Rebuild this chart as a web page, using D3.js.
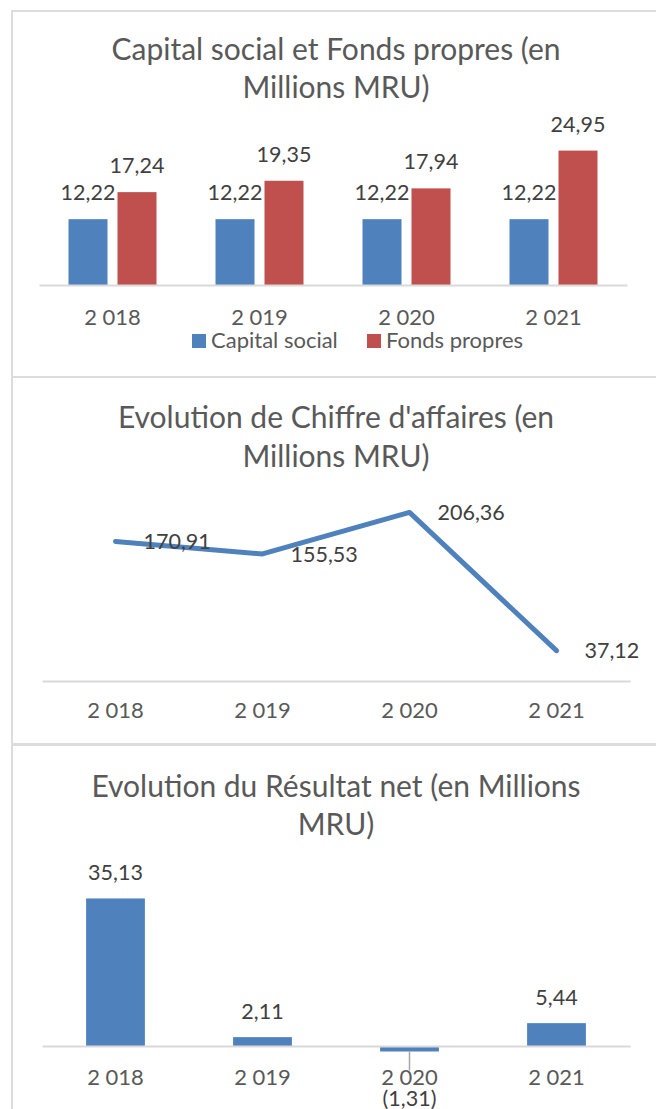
<!DOCTYPE html>
<html>
<head>
<meta charset="utf-8">
<script src="https://cdn.jsdelivr.net/npm/d3@7"></script>
<style>
  html, body { margin: 0; padding: 0; background: #fff; }
  svg { display: block; font-family: Lato, "Open Sans", sans-serif; }
</style>
</head>
<body>
<svg id="chart" width="656" height="1109"></svg>
<script>
// data
const years = ["2 018", "2 019", "2 020", "2 021"];
const capitalSocial = [12.22, 12.22, 12.22, 12.22];
const fondsPropres = [17.24, 19.35, 17.94, 24.95];
const chiffreAffaires = [170.91, 155.53, 206.36, 37.12];
const resultatNet = [35.13, 2.11, -1.31, 5.44];
const seriesNames = ["Capital social", "Fonds propres"];
const titles = [
    ["Capital social et Fonds propres (en", "Millions MRU)"],
    ["Evolution de Chiffre d'affaires (en", "Millions MRU)"],
    ["Evolution du Résultat net (en Millions", "MRU)"]
];

const BLUE = "#4f81bd", RED = "#c0504d", GREY = "#595959", LINE = "#d9d9d9";

const fr = d3.formatLocale({decimal: ",", thousands: " ", grouping: [3], currency: ["", ""]});
const f2 = fr.format(".2f");
const fmt = v => v < 0 ? "(" + f2(-v) + ")" : f2(v);

const svg = d3.select("#chart");

// panel frames
const panels = [[11, 377], [377, 744], [745, 1120]];
svg.append("g").selectAll("rect")
    .data(panels)
    .join("rect")
    .attr("x", 12)
    .attr("y", d => d[0])
    .attr("width", 660)
    .attr("height", d => d[1] - d[0])
    .attr("fill", "#fff")
    .attr("stroke", "#dcdcdc")
    .attr("stroke-width", 2);

function drawTitle(lines, y0, y1){
    const t = svg.append("text")
        .attr("text-anchor", "middle")
        .attr("fill", GREY)
        .attr("font-size", 30);
    t.append("tspan").attr("x", 336).attr("y", y0).text(lines[0]);
    t.append("tspan").attr("x", 336).attr("y", y1).text(lines[1]);
}

function drawXAxis(x, yPos, labelY){
    const g = svg.append("g")
        .attr("transform", `translate(0,${yPos})`)
        .call(d3.axisBottom(x).tickSize(0).tickPadding(0));
    g.select(".domain").attr("stroke", LINE).attr("stroke-width", 2);
    g.selectAll("text")
        .attr("y", labelY).attr("dy", 0)
        .attr("font-size", 22)
        .attr("font-family", "Lato, sans-serif")
        .attr("fill", GREY);
    return g;
}

// ---------- Chart 1 : grouped bars ----------
drawTitle(titles[0], 60, 98);

const x1 = d3.scaleBand().domain(years).range([39, 627]);
const xs = d3.scaleBand().domain(seriesNames)
    .range([x1.bandwidth() / 2 - 44, x1.bandwidth() / 2 + 44])
    .paddingInner(0.204);
const y1 = d3.scaleLinear().domain([0, 30]).range([285, 123.4]);

const rows1 = years.map((yr, i) => ({yr, vals: [
    {s: seriesNames[0], v: capitalSocial[i], c: BLUE},
    {s: seriesNames[1], v: fondsPropres[i], c: RED}
]}));

const grp = svg.append("g").selectAll("g")
    .data(rows1)
    .join("g")
    .attr("transform", d => `translate(${x1(d.yr)},0)`);

grp.selectAll("rect")
    .data(d => d.vals)
    .join("rect")
    .attr("x", d => xs(d.s))
    .attr("width", xs.bandwidth())
    .attr("y", d => y1(d.v))
    .attr("height", d => y1(0) - y1(d.v))
    .attr("fill", d => d.c);

grp.selectAll("text")
    .data(d => d.vals)
    .join("text")
    .attr("x", d => xs(d.s) + xs.bandwidth() / 2)
    .attr("y", d => y1(d.v) - 19)
    .attr("text-anchor", "middle")
    .attr("font-size", 21.5)
    .attr("fill", "#404040")
    .text(d => fmt(d.v));

drawXAxis(x1, 285, 40);

// legend
const legend = svg.append("g").attr("transform", "translate(192,334)");
const legItems = [{s: seriesNames[0], c: BLUE, dx: 0}, {s: seriesNames[1], c: RED, dx: 175}];
const li = legend.selectAll("g").data(legItems).join("g")
    .attr("transform", d => `translate(${d.dx},0)`);
li.append("rect").attr("width", 14).attr("height", 14).attr("fill", d => d.c);
li.append("text").attr("x", 19).attr("y", 14)
    .attr("font-size", 22).attr("fill", GREY).text(d => d.s);

// ---------- Chart 2 : line ----------
drawTitle(titles[1], 428, 467);

const x2 = d3.scaleBand().domain(years).range([42, 630]);
const y2 = d3.scaleLinear().domain([0, 250]).range([681, 476.8]);

drawXAxis(x2, 681, 37);

const pts = years.map((yr, i) => ({x: x2(yr) + x2.bandwidth() / 2, v: chiffreAffaires[i]}));

svg.append("path")
    .datum(pts)
    .attr("fill", "none")
    .attr("stroke", BLUE)
    .attr("stroke-width", 5)
    .attr("stroke-linecap", "round")
    .attr("stroke-linejoin", "round")
    .attr("d", d3.line().x(d => d.x).y(d => y2(d.v)));

svg.append("g").selectAll("text")
    .data(pts)
    .join("text")
    .attr("x", d => d.x + 28)
    .attr("y", d => y2(d.v))
    .attr("dy", "0.36em")
    .attr("font-size", 21.5)
    .attr("fill", "#404040")
    .text(d => fmt(d.v));

// ---------- Chart 3 : bars with negative ----------
drawTitle(titles[2], 797, 835);

const x3 = d3.scaleBand().domain(years).range([42, 630]).paddingInner(0.6).paddingOuter(0.3);
const y3 = d3.scaleLinear().domain([0, 40]).range([1046, 878]);

const rows3 = years.map((yr, i) => ({yr, v: resultatNet[i]}));

svg.append("g").selectAll("rect")
    .data(rows3)
    .join("rect")
    .attr("x", d => x3(d.yr))
    .attr("width", x3.bandwidth())
    .attr("y", d => y3(Math.max(0, d.v)))
    .attr("height", d => Math.abs(y3(d.v) - y3(0)))
    .attr("fill", BLUE);

drawXAxis(x3, 1046, 39);

// leader line for the negative label
svg.append("g").selectAll("line")
    .data(rows3.filter(d => d.v < 0))
    .join("line")
    .attr("x1", d => x3(d.yr) + x3.bandwidth() / 2)
    .attr("x2", d => x3(d.yr) + x3.bandwidth() / 2)
    .attr("y1", d => y3(d.v))
    .attr("y2", d => y3(d.v) + 19)
    .attr("stroke", "#a6a6a6")
    .attr("stroke-width", 1.5);

svg.append("g").selectAll("text")
    .data(rows3)
    .join("text")
    .attr("x", d => x3(d.yr) + x3.bandwidth() / 2)
    .attr("y", d => d.v < 0 ? y3(d.v) + 54 : y3(d.v) - 18)
    .attr("text-anchor", "middle")
    .attr("font-size", 21.5)
    .attr("fill", "#404040")
    .text(d => fmt(d.v));
</script>
</body>
</html>
